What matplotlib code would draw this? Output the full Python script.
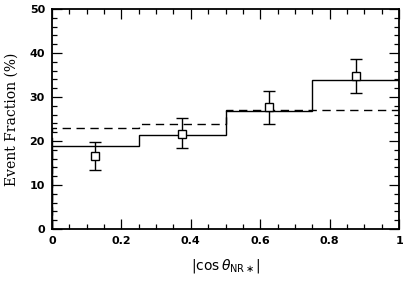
import numpy as np
import matplotlib
matplotlib.use("Agg")
import matplotlib.pyplot as plt
from matplotlib.ticker import MultipleLocator

# histogram bins in |cos theta|
bin_edges = [0.0, 0.25, 0.5, 0.75, 1.0]
solid_vals = [18.9, 21.4, 26.9, 33.9]
dashed_vals = [22.9, 23.9, 27.0, 27.0]

# measured points
pt_x = [0.125, 0.375, 0.625, 0.875]
pt_y = [16.7, 21.7, 27.7, 34.8]
pt_hi = [19.7, 25.3, 31.3, 38.6]
pt_lo = [13.4, 18.3, 23.9, 30.9]

fig = plt.figure(figsize=(4.09, 2.83), dpi=100)
ax = fig.add_axes([0.127, 0.191, 0.849, 0.777])

ax.stairs(solid_vals, bin_edges, color="black", lw=1.0)
ax.stairs(dashed_vals, bin_edges, color="black", lw=1.0, linestyle=(0, (6, 4)))

yerr = [np.array(pt_y) - np.array(pt_lo), np.array(pt_hi) - np.array(pt_y)]
ax.errorbar(pt_x, pt_y, yerr=yerr, fmt="s", mfc="white", mec="black",
            ms=5.5, mew=1.0, ecolor="black", elinewidth=1.0, capsize=4, capthick=1.0)

ax.set_xlim(0, 1)
ax.set_ylim(0, 50)
ax.xaxis.set_major_locator(MultipleLocator(0.2))
ax.xaxis.set_minor_locator(MultipleLocator(0.05))
ax.yaxis.set_major_locator(MultipleLocator(10))
ax.yaxis.set_minor_locator(MultipleLocator(2))
ax.xaxis.set_major_formatter(plt.FuncFormatter(lambda v, p: "%g" % v))
ax.tick_params(which="both", direction="in", top=True, right=True, width=0.9)
ax.tick_params(which="major", length=7, labelsize=8, pad=5)
ax.tick_params(which="minor", length=3.5)
for lab in ax.get_xticklabels() + ax.get_yticklabels():
    lab.set_fontweight("bold")
for s in ax.spines.values():
    s.set_linewidth(1.3)

ax.set_ylabel("Event Fraction (%)", family="DejaVu Serif", fontsize=10,
              labelpad=8)
ax.set_xlabel(r"$|\cos\theta_{\mathrm{NR}\ast}|$", fontsize=10, labelpad=8)

fig.savefig("out.png", dpi=100)
